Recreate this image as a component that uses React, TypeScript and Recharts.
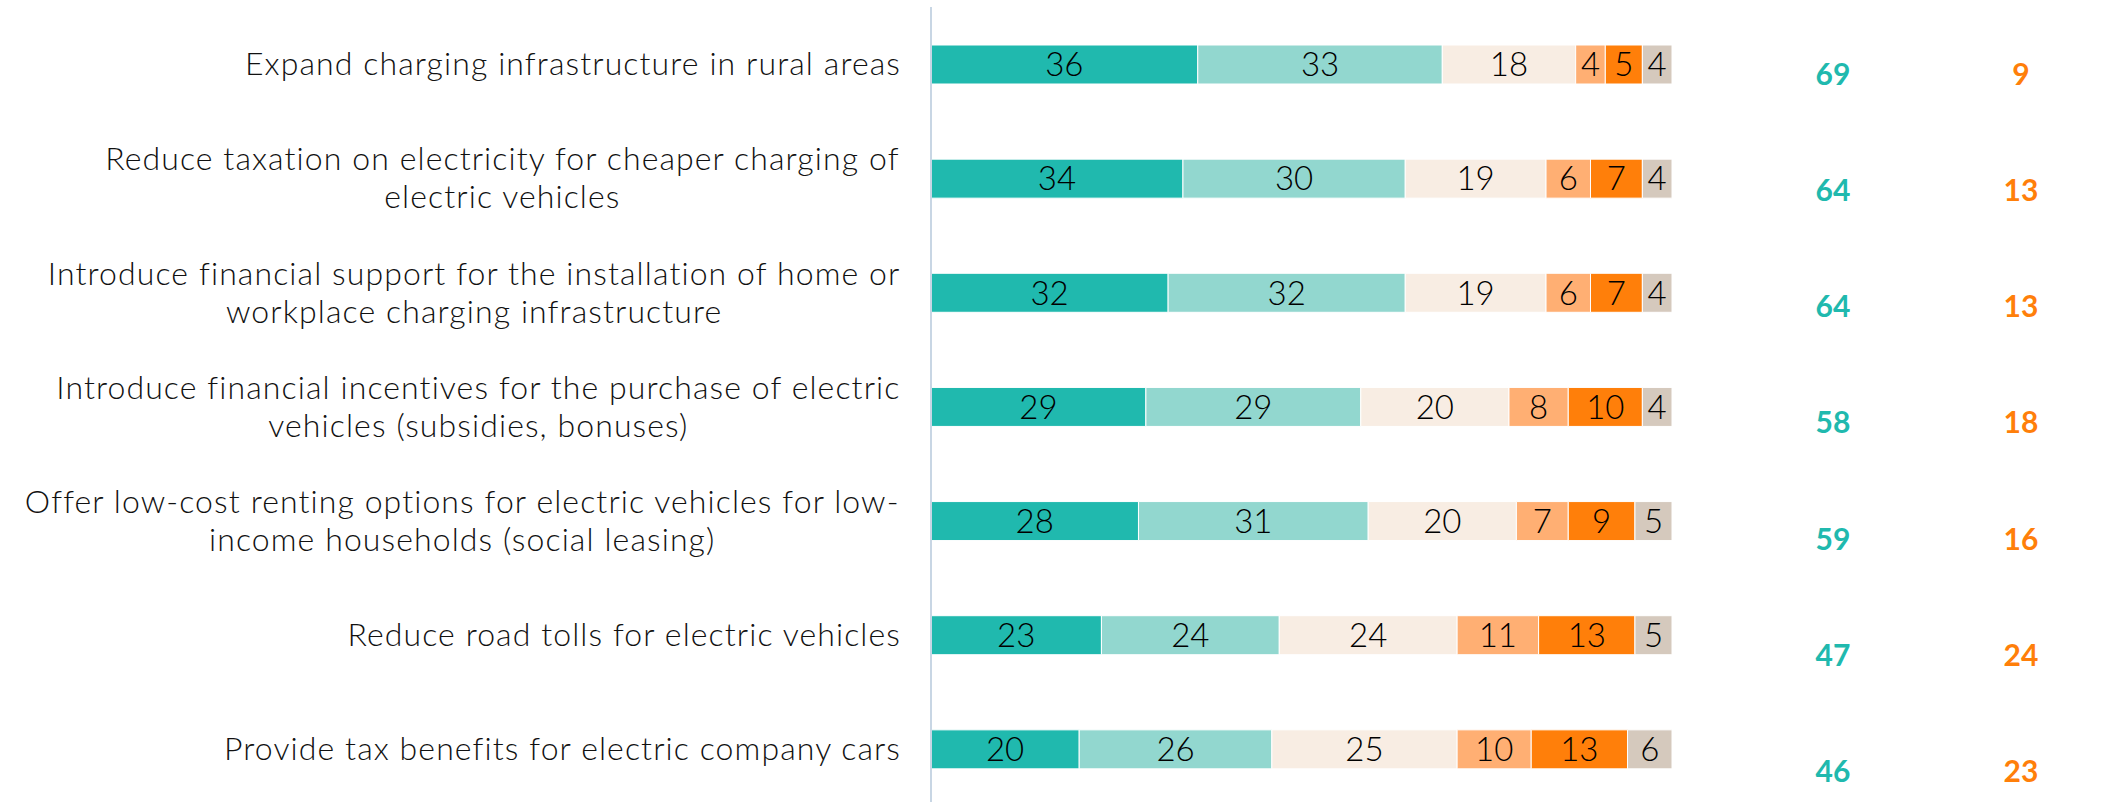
import { BarChart, Bar, XAxis, YAxis, LabelList } from 'recharts';

const categories = [
  'Expand charging infrastructure in rural areas',
  'Reduce taxation on electricity for cheaper charging of\nelectric vehicles',
  'Introduce financial support for the installation of home or\nworkplace charging infrastructure',
  'Introduce financial incentives for the purchase of electric\nvehicles (subsidies, bonuses)',
  'Offer low-cost renting options for electric vehicles for low-\nincome households (social leasing)',
  'Reduce road tolls for electric vehicles',
  'Provide tax benefits for electric company cars',
];

const stronglyAgree = [36, 34, 32, 29, 28, 23, 20];
const somewhatAgree = [33, 30, 32, 29, 31, 24, 26];
const neutral = [18, 19, 19, 20, 20, 24, 25];
const somewhatDisagree = [4, 6, 6, 8, 7, 11, 10];
const stronglyDisagree = [5, 7, 7, 10, 9, 13, 13];
const dontKnow = [4, 4, 4, 4, 5, 5, 6];
const totalAgree = [69, 64, 64, 58, 59, 47, 46];
const totalDisagree = [9, 13, 13, 18, 16, 24, 23];

const data = categories.map((name, i) => ({
  name,
  sa: stronglyAgree[i],
  wa: somewhatAgree[i],
  ne: neutral[i],
  wd: somewhatDisagree[i],
  sd: stronglyDisagree[i],
  dk: dontKnow[i],
}));

const series = [
  { key: 'sa', color: '#20B9AE' },
  { key: 'wa', color: '#92D7CF' },
  { key: 'ne', color: '#F8EDE3' },
  { key: 'wd', color: '#FFAF73' },
  { key: 'sd', color: '#FF7F0A' },
  { key: 'dk', color: '#D5C9BD' },
];

const LABEL_SIZE = 32;
const LABEL_SPACING = 1.1;

let ctx: CanvasRenderingContext2D | null = null;
function measure(text: string) {
  if (!ctx) ctx = document.createElement('canvas').getContext('2d');
  if (!ctx) return text.length * 16;
  ctx.font = `300 ${LABEL_SIZE}px Lato`;
  return ctx.measureText(text).width + text.length * LABEL_SPACING;
}

function CategoryTick(props: any) {
  const { x, y, payload } = props;
  const lines: string[] = String(payload.value).split('\n');
  const right = x - 22;
  const lh = 38;
  const top = y - ((lines.length - 1) * lh) / 2;
  const maxW = Math.max(...lines.map(measure));
  return (
    <g>
      {lines.map((ln, i) => (
        <text
          key={i}
          x={lines.length > 1 ? right - maxW / 2 : right}
          y={top + i * lh}
          dy="0.35em"
          textAnchor={lines.length > 1 ? 'middle' : 'end'}
          fontFamily="Lato"
          fontWeight={300}
          fontSize={LABEL_SIZE}
          letterSpacing={LABEL_SPACING}
          fill="#111"
        >
          {ln}
        </text>
      ))}
    </g>
  );
}

function TotalsLabel(props: any) {
  const { y, height, index } = props;
  const cy = y + height / 2 + 10 + index * 2;
  return (
    <g fontFamily="Lato" fontWeight={700} fontSize={30}>
      <text x={1833} y={cy} dy="0.35em" textAnchor="middle" fill="#20B9AE">
        {totalAgree[index]}
      </text>
      <text x={2021} y={cy} dy="0.35em" textAnchor="middle" fill="#FF7F0A">
        {totalDisagree[index]}
      </text>
    </g>
  );
}

export default function App() {
  return (
    <div style={{ width: 2121, height: 802, background: '#fff' }}>
      <style>{'body{margin:0}'}</style>
      <BarChart
        width={2121}
        height={802}
        data={data}
        layout="vertical"
        margin={{ top: 7, right: 449, bottom: -4, left: 0 }}
        barSize={39}
      >
        <XAxis type="number" domain={[0, 100]} hide />
        <YAxis
          type="category"
          dataKey="name"
          width={931}
          axisLine={{ stroke: '#C8D6E4', strokeWidth: 2 }}
          tickLine={false}
          tick={<CategoryTick />}
          interval={0}
        />
        {series.map((s, si) => (
          <Bar
            key={s.key}
            dataKey={s.key}
            stackId="a"
            fill={s.color}
            stroke="#FFFFFF"
            strokeWidth={1}
            isAnimationActive={false}
          >
            <LabelList
              dataKey={s.key}
              position="center"
              fill="#000"
              fontSize={33}
              fontFamily="Lato"
              fontWeight={300}
            />
            {si === series.length - 1 && <LabelList dataKey={s.key} content={<TotalsLabel />} />}
          </Bar>
        ))}
      </BarChart>
    </div>
  );
}
